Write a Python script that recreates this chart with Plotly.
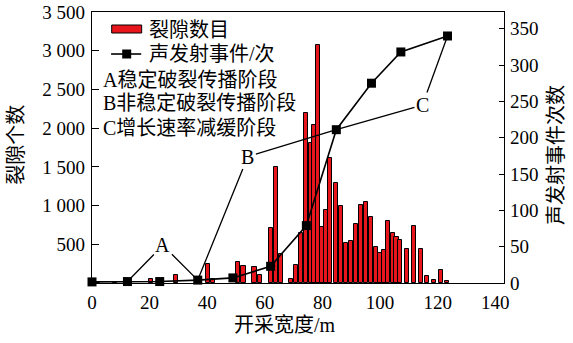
import plotly.graph_objects as go

# ---- data ----
crack_x = [2.1, 8.0, 20.6, 29.2, 40.2, 41.9, 50.8, 52.6, 56.4, 58.3,
           62.1, 63.9, 65.7, 69.1, 70.9, 72.6, 74.3, 76.0, 77.2, 78.4,
           79.9, 81.4, 82.5, 84.8, 86.3, 88.2, 89.9, 91.6, 93.4, 95.2,
           96.9, 98.6, 100.1, 101.4, 102.7, 104.4, 105.7, 107.0, 109.3, 111.8,
           114.2, 116.3, 118.8, 121.1, 123.2]
crack_n = [12, 12, 55, 103, 245, 52, 275, 224, 207, 105,
           706, 1502, 375, 56, 232, 641, 2191, 1804, 2040, 3074,
           727, 943, 1619, 1287, 999, 512, 542, 762, 1007, 1050,
           857, 469, 392, 426, 805, 650, 590, 555, 435, 736,
           435, 90, 39, 168, 30]

ae_x = [0, 12.3, 23.5, 36.7, 48.9, 62.0, 74.4, 84.8, 97.0, 107.2, 123.4]
ae_n = [1.5, 2, 2, 4, 7, 23, 79, 211, 275, 318, 340]

x_ticks = [0, 20, 40, 60, 80, 100, 120, 140]
y1_ticks = [500, 1000, 1500, 2000, 2500, 3000, 3500]
y1_text = ["500", "1 000", "1 500", "2 000", "2 500", "3 000", "3 500"]
y2_ticks = [0, 50, 100, 150, 200, 250, 300, 350]

stage_labels = ["A", "B", "C"]
stage_text_pos = [(24.6, 52), (54.1, 174), (114.7, 245)]
stage_links = [(1, 3), (3, 7), (7, 10)]   # indices into ae points

legend_texts = ["裂隙数目", "声发射事件/次"]
stage_desc = ["A稳定破裂传播阶段", "B非稳定破裂传播阶段", "C增长速率减缓阶段"]
x_title = "开采宽度/m"
y1_title = "裂隙个数"
y2_title = "声发射事件次数"

SERIF = "Liberation Serif, Noto Sans CJK SC"
RED = "#E8161C"

fig = go.Figure()
fig.add_trace(go.Bar(x=crack_x, y=crack_n, width=1.45,
                     marker=dict(color=RED, line=dict(color="black", width=1)),
                     yaxis="y", showlegend=False))
fig.add_trace(go.Scatter(x=ae_x, y=ae_n, mode="lines+markers", yaxis="y2",
                         line=dict(color="black", width=1.6),
                         marker=dict(symbol="square", size=9, color="black"),
                         cliponaxis=False, showlegend=False))

annotations = []
# stage letters with connecting lines
for lab, (tx, ty), links in zip(stage_labels, stage_text_pos, stage_links):
    for k, idx in enumerate(links):
        annotations.append(dict(
            x=ae_x[idx], y=ae_n[idx], xref="x", yref="y2",
            ax=tx, ay=ty, axref="x", ayref="y2",
            text=lab, showarrow=True, arrowhead=0, arrowwidth=1.3,
            arrowcolor="black", standoff=0, startstandoff=0,
            font=dict(family=SERIF, size=20,
                      color="black" if k == 0 else "rgba(0,0,0,0)")))

def txt(text, x, y, **kw):
    d = dict(x=x, y=y, xref="paper", yref="paper", text=text, showarrow=False,
             xanchor=kw.pop("xanchor", "left"), yanchor="middle",
             font=dict(family=SERIF, size=20, color="black"))
    d.update(kw)
    annotations.append(d)

# manual legend texts
txt(legend_texts[0], 0.1328, 0.934)
txt(legend_texts[1], 0.1328, 0.845)
for t, yy in zip(stage_desc, [0.749, 0.663, 0.571]):
    txt(t, 0.022, yy)

# axis titles
txt(x_title, 0.468, -0.155, xanchor="center")
txt(y1_title, -0.185, 0.509, xanchor="center", textangle=-90)
txt(y2_title, 1.126, 0.472, xanchor="center", textangle=-90)

shapes = [
    dict(type="rect", xref="paper", yref="paper", x0=0.0478, x1=0.1206,
         y0=0.9225, y1=0.952, fillcolor=RED, line=dict(color="black", width=1)),
    dict(type="line", xref="paper", yref="paper", x0=0.0463, x1=0.1194,
         y0=0.845, y1=0.845, line=dict(color="black", width=1.6)),
    dict(type="rect", xref="paper", yref="paper", x0=0.0842 - 0.0109, x1=0.0842 + 0.0109,
         y0=0.845 - 0.0166, y1=0.845 + 0.0166, fillcolor="black", line=dict(width=0)),
]

tickfont = dict(family=SERIF, size=19, color="black")
fig.update_layout(
    width=573, height=343,
    margin=dict(l=92, r=69, t=12, b=60),
    paper_bgcolor="white", plot_bgcolor="white",
    bargap=0,
    xaxis=dict(range=[0, 143], tickvals=x_ticks, ticks="", showgrid=False,
               zeroline=False, showline=True, linecolor="black", linewidth=1.3,
               mirror=True, tickfont=tickfont, ticklabelstandoff=2,
               ticklabeloverflow="allow", automargin=False),
    yaxis=dict(range=[0, 3500], tickvals=y1_ticks, ticktext=y1_text,
               ticks="inside", ticklen=7, tickcolor="black", tickwidth=1.2,
               showgrid=False, zeroline=False, showline=True, linecolor="black",
               linewidth=1.3, tickfont=tickfont, ticklabelstandoff=2,
               ticklabeloverflow="allow", automargin=False),
    yaxis2=dict(range=[0, 373], tickvals=y2_ticks, overlaying="y", side="right",
                ticks="inside", ticklen=5, tickcolor="black", tickwidth=1.2,
                showgrid=False, zeroline=False, showline=True, linecolor="black",
                linewidth=1.3, tickfont=tickfont, ticklabelstandoff=1,
                ticklabeloverflow="allow", automargin=False),
    annotations=annotations,
    shapes=shapes,
)

fig.write_html("out.html",
               config={"displayModeBar": False},
               post_script="document.body.style.margin='0';document.body.style.overflow='hidden';")
